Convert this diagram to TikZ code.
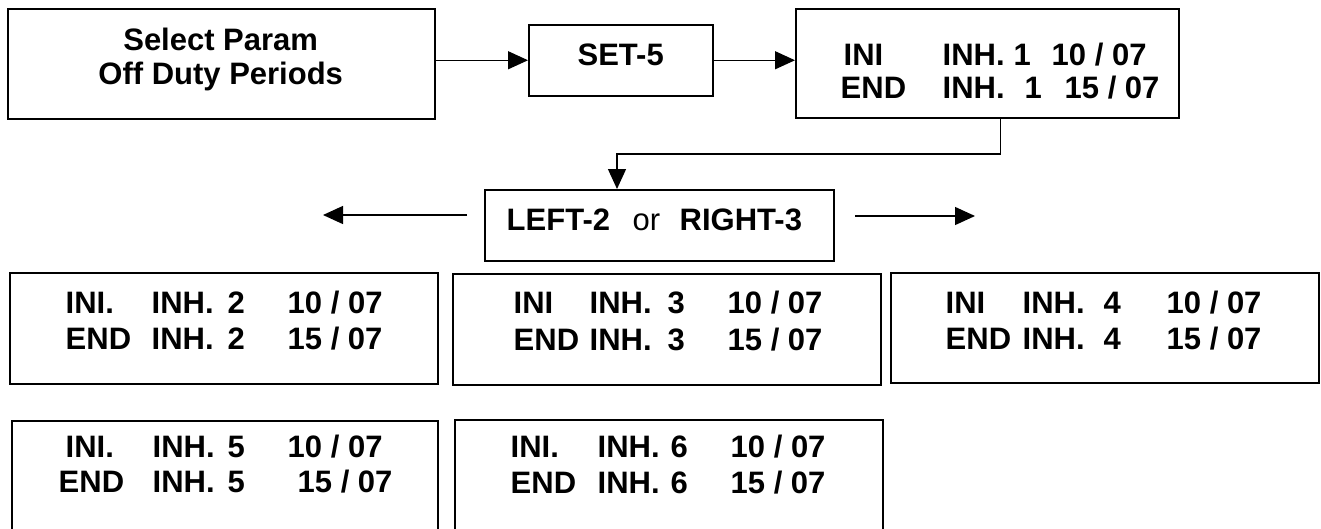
\documentclass[tikz,border=0pt]{standalone}
\usepackage{fontspec}
\setmainfont{Liberation Sans}
\usetikzlibrary{arrows.meta,calc}
\newcommand\tk[2]{\rlap{\hspace*{#1pt}#2}}
\newcommand\cln[1]{\hbox to 0pt{\hss#1\hss}}
\newcommand\twoline[3]{\vtop{\baselineskip=#1pt\hbox{#2}\hbox{#3}}}
\begin{document}
\begin{tikzpicture}[x=1pt,y=-1pt,
  box/.style={draw,line width=1.5pt,inner sep=0pt,anchor=north west},
  txt/.style={inner sep=0pt,anchor=base west,font=\fontsize{31}{34}\selectfont\bfseries},
  arr/.style={line width=1.3pt,-{Triangle[length=20pt,width=18pt]}}]
\useasboundingbox (0,0) rectangle (1321,528);

% boxes
\node[box,minimum width=427pt,minimum height=110pt] (A)  at (7,8) {};
\node[box,minimum width=184pt,minimum height=71pt]  (S)  at (528,24) {};
\node[box,minimum width=383pt,minimum height=109pt] (B)  at (795,8) {};
\node[box,minimum width=349pt,minimum height=71pt]  (LR) at (484,189) {};
\node[box,minimum width=428pt,minimum height=111pt] (B2) at (9,272) {};
\node[box,minimum width=428pt,minimum height=111pt] (B3) at (452,273) {};
\node[box,minimum width=428pt,minimum height=110pt] (B4) at (890,272) {};
\node[box,minimum width=426pt,minimum height=130pt] (B5) at (11,420) {};
\node[box,minimum width=428pt,minimum height=130pt] (B6) at (454,419) {};

% texts
\node[txt] (tA) at (220,50) {\twoline{34}{\cln{Select Param}}{\cln{Off Duty Periods}}};
\node[txt] (tS) at (620,65) {\cln{SET-5}};
\node[txt] (tB) at (840,65) {\twoline{33}%
  {\tk{3}{INI}\tk{102}{INH.}\tk{173}{1}\tk{211}{10 / 07}}%
  {\tk{0}{END}\tk{102}{INH.}\tk{184}{1}\tk{224}{15 / 07}}};
\node[txt] (tLR) at (506,230) {\tk{0}{LEFT-2}\tk{126}{\mdseries or}\tk{173}{RIGHT-3}};
\node[txt] (t2) at (65,313) {\twoline{36}%
  {\tk{0}{INI.}\tk{86}{INH.}\tk{162}{2}\tk{222}{10 / 07}}%
  {\tk{0}{END}\tk{86}{INH.}\tk{162}{2}\tk{222}{15 / 07}}};
\node[txt] (t3) at (513,313) {\twoline{37}%
  {\tk{0}{INI}\tk{76}{INH.}\tk{154}{3}\tk{214}{10 / 07}}%
  {\tk{0}{END}\tk{76}{INH.}\tk{154}{3}\tk{214}{15 / 07}}};
\node[txt] (t4) at (945,313) {\twoline{36}%
  {\tk{0}{INI}\tk{77}{INH.}\tk{158}{4}\tk{221}{10 / 07}}%
  {\tk{0}{END}\tk{77}{INH.}\tk{158}{4}\tk{221}{15 / 07}}};
\node[txt] (t5) at (58,457) {\twoline{35}%
  {\tk{7}{INI.}\tk{94}{INH.}\tk{169}{5}\tk{229}{10 / 07}}%
  {\tk{0}{END}\tk{94}{INH.}\tk{169}{5}\tk{239}{15 / 07}}};
\node[txt] (t6) at (510,457) {\twoline{36}%
  {\tk{0}{INI.}\tk{87}{INH.}\tk{160}{6}\tk{220}{10 / 07}}%
  {\tk{0}{END}\tk{87}{INH.}\tk{160}{6}\tk{220}{15 / 07}}};

% connectors
\draw[arr] (S.west -| A.east) -- (S.west);
\draw[arr] (S.east) -- (S.east -| B.west);
\coordinate (bend) at (617,154);
\draw[arr] ([xshift=13.5pt]B.south) |- (bend) -- (bend |- LR.north);
\coordinate (l0) at (467,215);
\coordinate (l1) at (323,215);
\coordinate (r0) at (855,216);
\coordinate (r1) at (975,216);
\draw[arr] (l0) -- (l1);
\draw[arr] (r0) -- (r1);
\end{tikzpicture}
\end{document}
